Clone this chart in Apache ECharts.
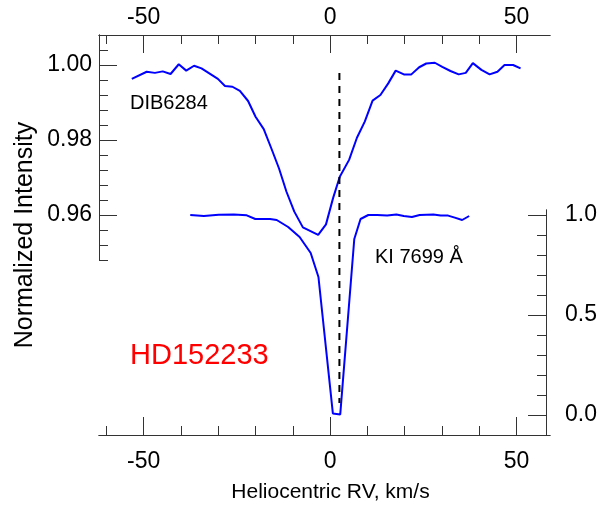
<!DOCTYPE html>
<html>
<head>
<meta charset="utf-8">
<script src="https://cdn.jsdelivr.net/npm/echarts@6/dist/echarts.min.js"></script>
<style>
  html, body { margin: 0; padding: 0; background: #fff; }
  #chart { width: 600px; height: 510px; }
</style>
</head>
<body>
<div id="chart"></div>
<script>
// ---- data ----
const rvMin = -62, rvMax = 59;
const rvMajorTicks = [-50, 0, 50];
const rvMinorTicks = [-60, -50, -40, -30, -20, -10, 0, 10, 20, 30, 40, 50];

const dibMin = 0.948, dibMax = 1.008;
const dibMajorTicks = [0.96, 0.98, 1.00];
const dibMinorTicks = [0.948, 0.952, 0.956, 0.96, 0.964, 0.968, 0.972, 0.976, 0.98, 0.984, 0.988, 0.992, 0.996, 1.0, 1.004, 1.008];

const kiMin = -0.1, kiMax = 1.025;
const kiMajorTicks = [0, 0.5, 1.0];
const kiMinorTicks = [-0.1, 0, 0.1, 0.2, 0.3, 0.4, 0.5, 0.6, 0.7, 0.8, 0.9, 1.0];

const dibRV = [-53.2, -49.2, -47.0, -44.9, -42.8, -40.6, -38.6, -36.5, -34.5, -32.3, -30.1, -28.2, -26.2, -24.2, -22.0, -20.0, -17.8, -15.7, -13.7, -11.7, -9.6, -7.3, -3.2, -1.1, 0.8, 2.6, 5.1, 7.2, 9.3, 11.4, 13.5, 15.6, 17.6, 19.8, 21.8, 23.9, 25.8, 28.1, 30.1, 32.3, 34.5, 36.4, 38.3, 40.6, 42.8, 44.9, 46.8, 49.1, 51.1];
const dibFlux = [0.9963, 0.9982, 0.9979, 0.9983, 0.9976, 1.0002, 0.9985, 0.9998, 0.9991, 0.9977, 0.9963, 0.9944, 0.9942, 0.9931, 0.9904, 0.9862, 0.9829, 0.9776, 0.9724, 0.9662, 0.9609, 0.9567, 0.9547, 0.9575, 0.9645, 0.9702, 0.9747, 0.9806, 0.9849, 0.9905, 0.9920, 0.9951, 0.9985, 0.9975, 0.9975, 0.9994, 1.0004, 1.0006, 0.9995, 0.9984, 0.9975, 0.9979, 1.0005, 0.9987, 0.9975, 0.9982, 1.0000, 1.0000, 0.9991];

const kiRV = [-37.3, -33.6, -29.6, -25.5, -22.0, -19.7, -15.7, -13.9, -10.8, -7.7, -4.7, -2.6, 1.3, 3.3, 7.1, 8.8, 10.9, 13.3, 16.0, 18.5, 20.5, 22.7, 24.8, 28.5, 30.5, 32.5, 34.3, 36.3, 38.2];
const kiFlux = [1.0, 0.995, 1.0015, 1.003, 0.9985, 0.98, 0.98, 0.975, 0.94, 0.89, 0.81, 0.69, 0.008, 0.003, 0.88, 0.98, 1.0, 1.0, 0.997, 1.003, 0.995, 0.99, 1.0, 1.002, 0.997, 0.997, 0.987, 0.975, 0.995];

// dashed reference line (frame units: same scale as KI axis, extended)
const dashRV = [2.5, 2.5];
const dashLevel = [1.71, 0.06];
const frameMin = -0.1, frameMax = 1.9;

// ---- chart ----
const FONT = 'Liberation Sans, Arial, sans-serif';
const AX = '#333';
const TICK_FS = 23;
const chart = echarts.init(document.getElementById('chart'), null, { renderer: 'canvas' });

function xAx(grid, pos, ticks, len, labels) {
  return {
    type: 'value', gridIndex: grid, position: pos, min: rvMin, max: rvMax,
    axisLine: { show: true, onZero: false, lineStyle: { color: AX, width: 1 } },
    axisTick: { show: true, inside: true, length: len, customValues: ticks, lineStyle: { color: AX, width: 1 } },
    axisLabel: labels ? { show: true, customValues: labels, margin: pos === 'bottom' ? 15 : 6, fontSize: TICK_FS, color: '#000', fontFamily: FONT } : { show: false },
    splitLine: { show: false }
  };
}
function yAx(grid, pos, mn, mx, ticks, len, labels, dec, margin) {
  return {
    type: 'value', gridIndex: grid, position: pos, min: mn, max: mx,
    axisLine: { show: true, onZero: false, lineStyle: { color: AX, width: 1 } },
    axisTick: { show: true, inside: true, length: len, customValues: ticks, lineStyle: { color: AX, width: 1 } },
    axisLabel: labels ? { show: true, customValues: labels, margin: margin, fontSize: TICK_FS, color: '#000', fontFamily: FONT, formatter: v => v.toFixed(dec) } : { show: false },
    splitLine: { show: false }
  };
}

const option = {
  animation: false,
  backgroundColor: '#fff',
  grid: [
    { left: 99, right: 50, top: 35, bottom: 75 },          // frame
    { left: 99, right: 50, top: 35, height: 225 },         // DIB
    { left: 99, right: 50, top: 210, bottom: 75 }          // KI
  ],
  xAxis: [
    Object.assign(xAx(0, 'bottom', rvMinorTicks, 9, null), {
      name: 'Heliocentric RV, km/s', nameLocation: 'middle', nameGap: 47,
      nameTextStyle: { fontSize: 21, color: '#000', fontFamily: FONT, padding: [0, 0, 0, 12] }
    }),
    xAx(0, 'bottom', rvMajorTicks, 18, rvMajorTicks),
    xAx(0, 'top', rvMinorTicks, 9, null),
    xAx(0, 'top', rvMajorTicks, 18, rvMajorTicks),
    { type: 'value', gridIndex: 1, min: rvMin, max: rvMax, show: false },
    { type: 'value', gridIndex: 2, min: rvMin, max: rvMax, show: false }
  ],
  yAxis: [
    { type: 'value', gridIndex: 0, min: frameMin, max: frameMax, position: 'left',
      name: 'Normalized Intensity', nameLocation: 'middle', nameGap: 61,
      nameTextStyle: { fontSize: 25, color: '#000', fontFamily: FONT },
      axisLine: { show: false }, axisTick: { show: false }, axisLabel: { show: false }, splitLine: { show: false } },
    yAx(1, 'left', dibMin, dibMax, dibMinorTicks, 9, null, 2, 7),
    yAx(1, 'left', dibMin, dibMax, dibMajorTicks, 18, dibMajorTicks, 2, 7),
    yAx(2, 'right', kiMin, kiMax, kiMinorTicks, 9, null, 1, 19),
    yAx(2, 'right', kiMin, kiMax, kiMajorTicks, 18, kiMajorTicks, 1, 19)
  ],
  series: [
    { type: 'line', xAxisIndex: 4, yAxisIndex: 1, data: dibRV.map((x, i) => [x, dibFlux[i]]),
      showSymbol: false, lineStyle: { color: '#0000ff', width: 2 }, itemStyle: { color: '#0000ff' } },
    { type: 'line', xAxisIndex: 5, yAxisIndex: 3, data: kiRV.map((x, i) => [x, kiFlux[i]]),
      showSymbol: false, lineStyle: { color: '#0000ff', width: 2 }, itemStyle: { color: '#0000ff' } },
    { type: 'line', xAxisIndex: 0, yAxisIndex: 0, data: dashRV.map((x, i) => [x, dashLevel[i]]),
      showSymbol: false, lineStyle: { color: '#000', width: 2, type: [7, 6] }, itemStyle: { color: '#000' } }
  ],
  graphic: [
    { type: 'text', x: 130, y: 103, style: { text: 'DIB6284', font: '20px ' + FONT, fill: '#000', verticalAlign: 'middle' } },
    { type: 'text', x: 375, y: 257, style: { text: 'KI 7699 Å', font: '20px ' + FONT, fill: '#000', verticalAlign: 'middle' } },
    { type: 'text', x: 130, y: 356, style: { text: 'HD152233', font: '29px ' + FONT, fill: '#ff0000', verticalAlign: 'middle' } }
  ]
};
chart.setOption(option);
</script>
</body>
</html>
